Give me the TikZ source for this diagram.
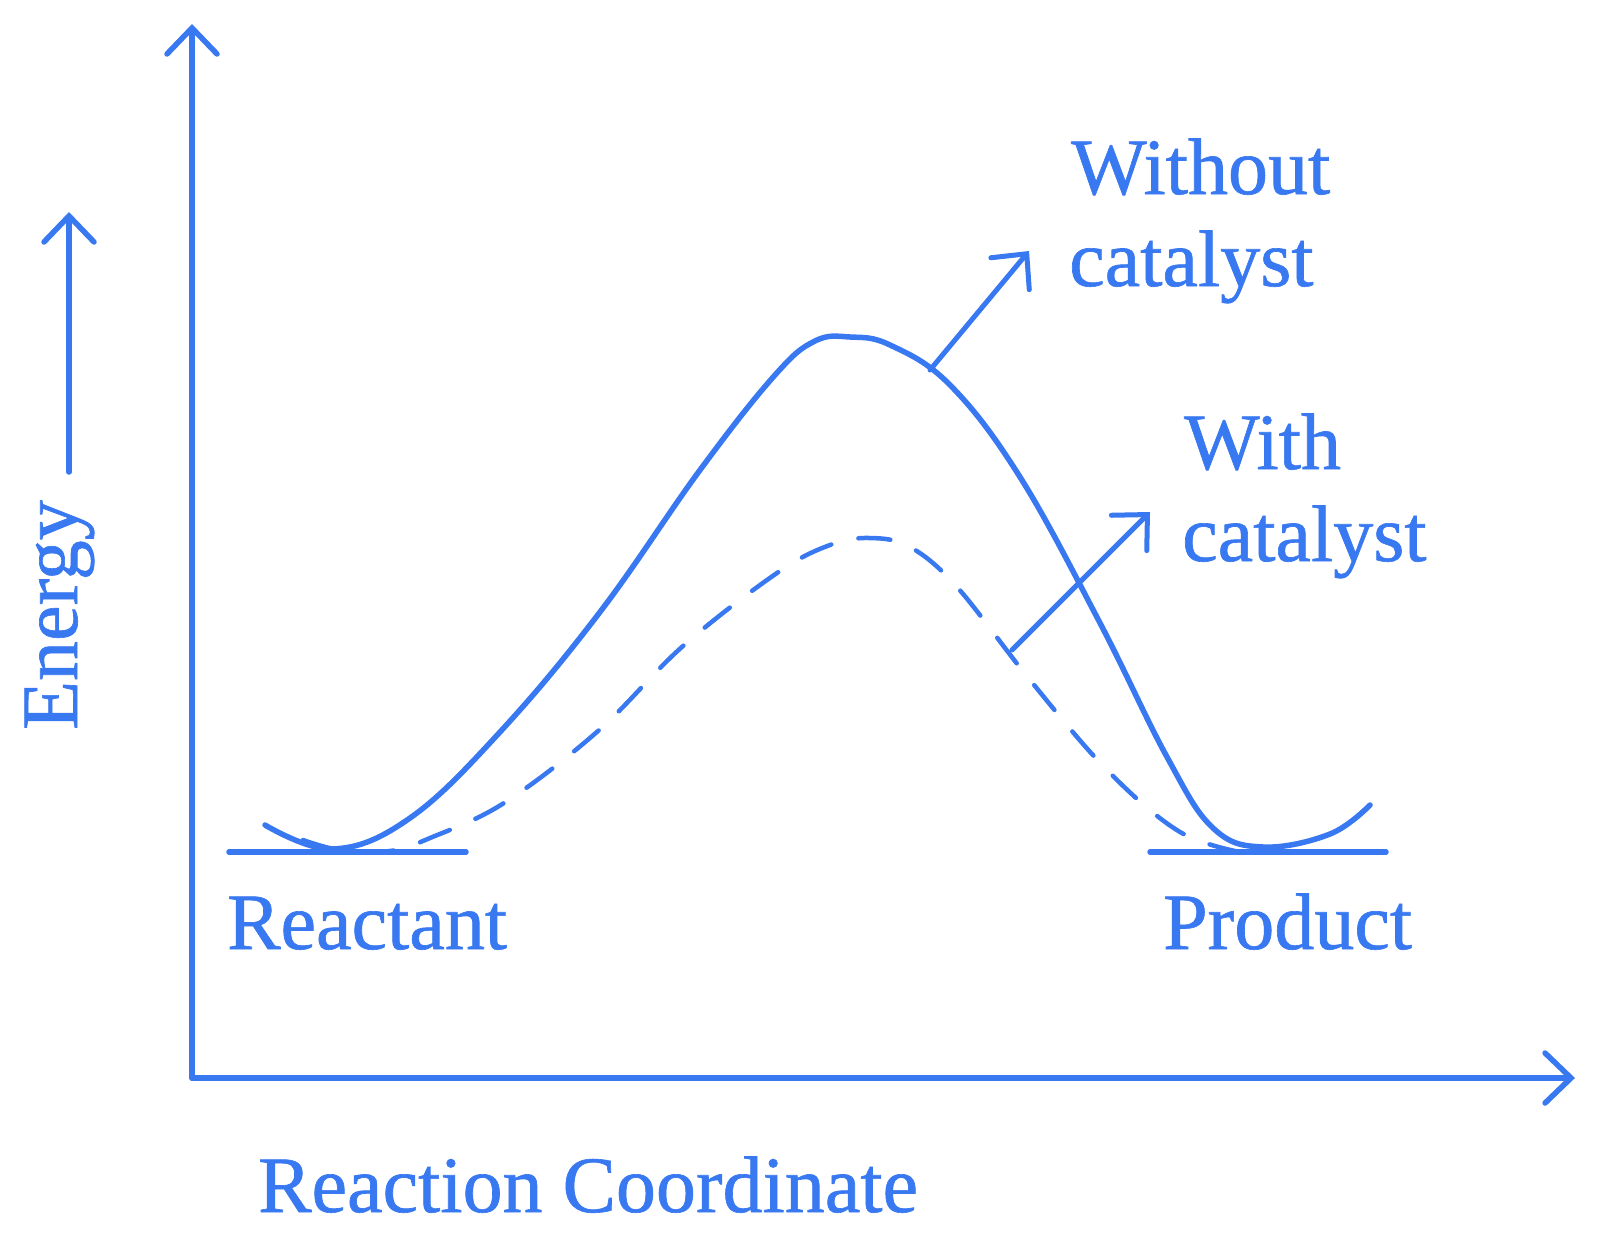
\documentclass[tikz,border=0pt]{standalone}
\usepackage{fontspec}
\setmainfont{Liberation Serif}[FakeBold=0.8]
\usetikzlibrary{arrows.meta}
\definecolor{ink}{RGB}{56,120,240}
\begin{document}
\begin{tikzpicture}[x=1pt,y=-1pt,
  ink/.style={draw=ink,line cap=round,line join=round},
  axis/.style={ink,line width=5.5pt,-{Straight Barb[length=26pt,width=50pt,line cap=round]}},
  pointer/.style={ink,line width=5pt,-{Straight Barb[length=26pt,width=50pt,line cap=round]}},
  curve/.style={ink,line width=5.5pt},
  dashcurve/.style={ink,line width=4.5pt,dash pattern=on 32pt off 28pt},
  base/.style={ink,line width=5.5pt},
  lbl/.style={text=ink,inner sep=0pt,font=\fontsize{80}{90}\selectfont}]
\useasboundingbox (0,0) rectangle (1600,1237);
% axes
\coordinate (O) at (192,1078);
\coordinate (Ytip) at (192,24);
\coordinate (Xtip) at (1575,1078);
\draw[axis] (O) -- (Ytip);
\draw[axis] (O) -- (Xtip);
% energy arrow
\coordinate (Ebot) at (69,472);
\coordinate (Etop) at (69,212);
\draw[axis] (Ebot) -- (Etop);
% base lines
\coordinate (R1) at (229,852); \coordinate (R2) at (466,852);
\coordinate (P1) at (1150,852); \coordinate (P2) at (1386,852);
\draw[base] (R1) -- (R2);
\draw[base] (P1) -- (P2);
% uncatalysed curve
\draw[curve] plot[smooth,tension=0.65] coordinates {
 (265,825) (333,849) (410,818) (500,732) (600,612) (700,470) (775,375)
 (815,341) (850,337) (890,345) (950,385) (1020,477) (1100,623)
 (1167,757) (1213,828) (1263,847) (1330,834) (1370,805)};
% catalysed curve
\draw[dashcurve] plot[smooth,tension=0.6] coordinates {
 (303,840) (340,850) (390,851) (430,838) (504,803) (598,731) (683,646)
 (777,573) (830,545) (870,538) (910,547) (957,587) (1030,680) (1107,770)
 (1180,832) (1245,853)};
% pointers
\coordinate (wo0) at (930,370); \coordinate (wo1) at (1029,251);
\coordinate (wi0) at (1012,650); \coordinate (wi1) at (1150,512);
\draw[pointer] (wo0) -- (wo1);
\draw[pointer] (wi0) -- (wi1);
% labels
\node[lbl,anchor=base west] (without) at (1071,194) {Without};
\node[lbl,anchor=base west] (cat1) at (1069,286) {catalyst};
\node[lbl,anchor=base west] (with) at (1184,469) {With};
\node[lbl,anchor=base west] (cat2) at (1182,561) {catalyst};
\node[lbl,anchor=base west] (react) at (227,949) {Reactant};
\node[lbl,anchor=base west] (prod) at (1163,949) {Product};
\node[lbl,anchor=base west] (xlab) at (258,1212) {Reaction Coordinate};
\node[lbl,anchor=base west,rotate=90] (ylab) at (77,730) {Energy};
\end{tikzpicture}
\end{document}
